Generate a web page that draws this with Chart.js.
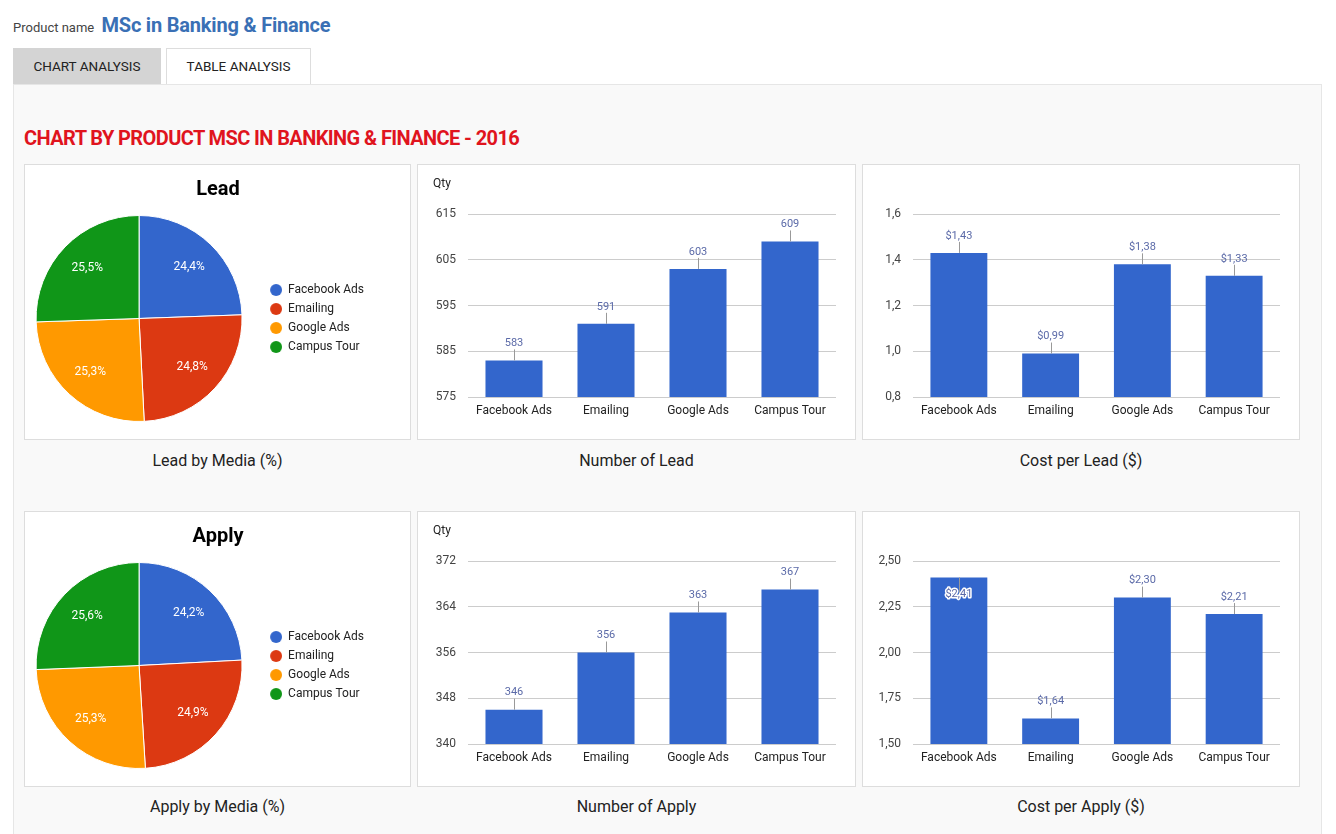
<!DOCTYPE html>
<html>
<head>
<meta charset="utf-8">
<script src="https://cdn.jsdelivr.net/npm/chart.js@4.4.1/dist/chart.umd.min.js"></script>
<style>
  body { margin: 0; background: #fff; font-family: Roboto, "Open Sans", sans-serif; color: #222; }
  .page { position: relative; width: 1336px; height: 834px; overflow: hidden; }
  .prod { position: absolute; left: 13px; top: 13px; font-size: 13px; color: #444; }
  .prod b { font-size: 20px; color: #3a70b5; margin-left: 4px; letter-spacing: -0.2px; }
  .tab { position: absolute; top: 48px; height: 36px; line-height: 36px; text-align: center; font-size: 13.5px; color: #222; box-sizing: border-box; }
  .tab1 { left: 13px; width: 148px; background: #d4d4d4; }
  .tab2 { left: 166px; width: 145px; background: #fff; border: 1px solid #ddd; border-bottom: none; line-height: 34px; }
  .panel { position: absolute; left: 13px; top: 84px; width: 1309px; height: 760px; background: #f9f9f9; border: 1px solid #e6e6e6; box-sizing: border-box; }
  h1 { position: absolute; left: 24px; top: 126px; margin: 0; font-size: 20px; font-weight: bold; color: #e0141e; letter-spacing: -0.6px; }
  .card { position: absolute; background: #fff; border: 1px solid #ddd; box-sizing: border-box; }
  .card canvas { position: absolute; left: 0; top: 0; }
  .cap { position: absolute; font-size: 16px; color: #222; text-align: center; }
</style>
</head>
<body>
<div class="page">
  <div class="prod">Product name <b>MSc in Banking &amp; Finance</b></div>
  <div class="tab tab1">CHART ANALYSIS</div>
  <div class="tab tab2">TABLE ANALYSIS</div>
  <div class="panel"></div>
  <h1>CHART BY PRODUCT MSC IN BANKING &amp; FINANCE - 2016</h1>

  <div class="card" style="left:24px;top:164px;width:387px;height:276px"><canvas id="leadPie"></canvas></div>
  <div class="card" style="left:417px;top:164px;width:439px;height:276px"><canvas id="leadBar"></canvas></div>
  <div class="card" style="left:862px;top:164px;width:438px;height:276px"><canvas id="leadCost"></canvas></div>
  <div class="cap" style="left:24px;top:451px;width:387px">Lead by Media (%)</div>
  <div class="cap" style="left:417px;top:451px;width:439px">Number of Lead</div>
  <div class="cap" style="left:862px;top:451px;width:438px">Cost per Lead ($)</div>

  <div class="card" style="left:24px;top:511px;width:387px;height:276px"><canvas id="applyPie"></canvas></div>
  <div class="card" style="left:417px;top:511px;width:439px;height:276px"><canvas id="applyBar"></canvas></div>
  <div class="card" style="left:862px;top:511px;width:438px;height:276px"><canvas id="applyCost"></canvas></div>
  <div class="cap" style="left:24px;top:797px;width:387px">Apply by Media (%)</div>
  <div class="cap" style="left:417px;top:797px;width:439px">Number of Apply</div>
  <div class="cap" style="left:862px;top:797px;width:438px">Cost per Apply ($)</div>
</div>

<script>
// data
const media = ["Facebook Ads", "Emailing", "Google Ads", "Campus Tour"];
const leadQty = [583, 591, 603, 609];
const leadCost = [1.43, 0.99, 1.38, 1.33];
const applyQty = [346, 356, 363, 367];
const applyCost = [2.41, 1.64, 2.30, 2.21];

const leadQtyTicks = [575, 585, 595, 605, 615];
const leadCostTicks = [0.8, 1.0, 1.2, 1.4, 1.6];
const applyQtyTicks = [340, 348, 356, 364, 372];
const applyCostTicks = [1.50, 1.75, 2.00, 2.25, 2.50];

const pieColors = ["#3366cc", "#dc3912", "#ff9900", "#109618"];
const FONT = "Roboto, 'Open Sans', sans-serif";

function comma(v, d) { return v.toFixed(d).replace(".", ","); }

// small dot image so the legend circle sits a bit away from the pie
function dot(color) {
    const c = document.createElement("canvas");
    c.width = 26; c.height = 12;
    const x = c.getContext("2d");
    x.fillStyle = color;
    x.beginPath(); x.arc(20, 6, 6, 0, Math.PI * 2); x.fill();
    return c;
}

const pieLabels = {
    id: "pieLabels",
    afterDatasetsDraw(chart) {
        const ctx = chart.ctx;
        const data = chart.data.datasets[0].data;
        const total = data.reduce((a, b) => a + b, 0);
        chart.getDatasetMeta(0).data.forEach((arc, i) => {
            const p = arc.getProps(["x", "y", "startAngle", "endAngle", "outerRadius"]);
            const mid = (p.startAngle + p.endAngle) / 2;
            const r = p.outerRadius * 0.7;
            ctx.save();
            ctx.fillStyle = "#fff";
            ctx.font = "12px " + FONT;
            ctx.textAlign = "center";
            ctx.textBaseline = "middle";
            ctx.fillText(comma(data[i] / total * 100, 1) + "%", p.x + Math.cos(mid) * r, p.y + Math.sin(mid) * r);
            ctx.restore();
        });
    }
};

// card title ("Lead" / "Apply") centred on the whole card
const cardTitle = {
    id: "cardTitle",
    afterDraw(chart) {
        const ctx = chart.ctx;
        ctx.save();
        ctx.font = "bold 20px " + FONT;
        ctx.fillStyle = "#000";
        ctx.textAlign = "center";
        ctx.textBaseline = "middle";
        ctx.fillText(chart.options.cardTitle, chart.width / 2 + 0.5, 25);
        ctx.restore();
    }
};

function makePie(id, title, values) {
    new Chart(document.getElementById(id), {
        type: "pie",
        data: { labels: media, datasets: [{ data: values, backgroundColor: pieColors, borderColor: "#fff", borderWidth: 1 }] },
        options: {
            responsive: false, animation: false, cardTitle: title,
            layout: { padding: { left: 4, right: 36, top: 50, bottom: 17 } },
            plugins: {
                legend: {
                    position: "right",
                    labels: {
                        usePointStyle: true, pointStyleWidth: 26, boxHeight: 12, padding: 7,
                        color: "#222", font: { family: FONT, size: 12 },
                        generateLabels: chart => Chart.overrides.pie.plugins.legend.labels.generateLabels(chart)
                            .map((l, i) => Object.assign(l, { pointStyle: dot(pieColors[i]) }))
                    }
                },
                tooltip: { enabled: false }
            }
        },
        plugins: [pieLabels, cardTitle]
    });
}

// value label with a short leader line, like the Google annotations
const barLabels = {
    id: "barLabels",
    afterDatasetsDraw(chart) {
        const ctx = chart.ctx;
        const ds = chart.data.datasets[0];
        const top = chart.chartArea.top;
        chart.getDatasetMeta(0).data.forEach((bar, i) => {
            const text = ds.fmt(ds.data[i]);
            ctx.save();
            ctx.font = "11px " + FONT;
            ctx.textAlign = "center";
            ctx.textBaseline = "middle";
            ctx.strokeStyle = "#999";
            ctx.lineWidth = 1;
            let ty = bar.y - 17;
            const inside = ty - 6 < top;
            if (inside) ty = bar.y + 17;
            ctx.beginPath();
            ctx.moveTo(Math.round(bar.x) + 0.5, bar.y);
            ctx.lineTo(Math.round(bar.x) + 0.5, inside ? ty : ty + 6);
            ctx.stroke();
            if (inside) {
                ctx.strokeStyle = "#fff";
                ctx.lineWidth = 3;
                ctx.lineJoin = "round";
                ctx.strokeText(text, bar.x, ty);
            }
            ctx.fillStyle = "#5b6aa8";
            ctx.fillText(text, bar.x, ty);
            ctx.restore();
        });
    }
};

const qtyLabel = {
    id: "qtyLabel",
    afterDraw(chart) {
        if (!chart.options.qty) return;
        const ctx = chart.ctx;
        ctx.save();
        ctx.font = "12px " + FONT;
        ctx.fillStyle = "#222";
        ctx.textBaseline = "middle";
        ctx.fillText("Qty", 15, 19);
        ctx.restore();
    }
};

function makeBar(id, values, ticks, tickFmt, valFmt, qty) {
    new Chart(document.getElementById(id), {
        type: "bar",
        data: { labels: media, datasets: [{ data: values, fmt: valFmt, backgroundColor: "#3366cc", barPercentage: 0.62, categoryPercentage: 1 }] },
        options: {
            responsive: false, animation: false, qty: qty,
            layout: { padding: { left: 0, right: 19, top: 49, bottom: 14 } },
            plugins: { legend: { display: false }, tooltip: { enabled: false } },
            scales: {
                x: {
                    grid: { display: false, drawTicks: false }, border: { display: false },
                    ticks: { color: "#222", font: { family: FONT, size: 12 }, padding: 7 },
                    afterFit: s => { s.height = 28; }
                },
                y: {
                    min: ticks[0], max: ticks[ticks.length - 1],
                    afterBuildTicks: s => { s.ticks = ticks.map(v => ({ value: v })); },
                    grid: { color: "#ccc", drawTicks: false }, border: { display: false },
                    ticks: { color: "#444", font: { family: FONT, size: 12 }, padding: 12, callback: v => tickFmt(v) },
                    afterFit: s => { s.width = 50; }
                }
            }
        },
        plugins: [barLabels, qtyLabel]
    });
}

function sizeCanvas(id, w, h) { const c = document.getElementById(id); c.width = w; c.height = h; c.style.width = w + "px"; c.style.height = h + "px"; }
[["leadPie", 385, 274], ["leadBar", 437, 274], ["leadCost", 436, 274], ["applyPie", 385, 274], ["applyBar", 437, 274], ["applyCost", 436, 274]]
    .forEach(a => sizeCanvas(a[0], a[1], a[2]));

makePie("leadPie", "Lead", leadQty);
makePie("applyPie", "Apply", applyQty);
makeBar("leadBar", leadQty, leadQtyTicks, v => String(v), v => String(v), true);
makeBar("leadCost", leadCost, leadCostTicks, v => comma(v, 1), v => "$" + comma(v, 2), false);
makeBar("applyBar", applyQty, applyQtyTicks, v => String(v), v => String(v), true);
makeBar("applyCost", applyCost, applyCostTicks, v => comma(v, 2), v => "$" + comma(v, 2), false);
</script>
</body>
</html>
